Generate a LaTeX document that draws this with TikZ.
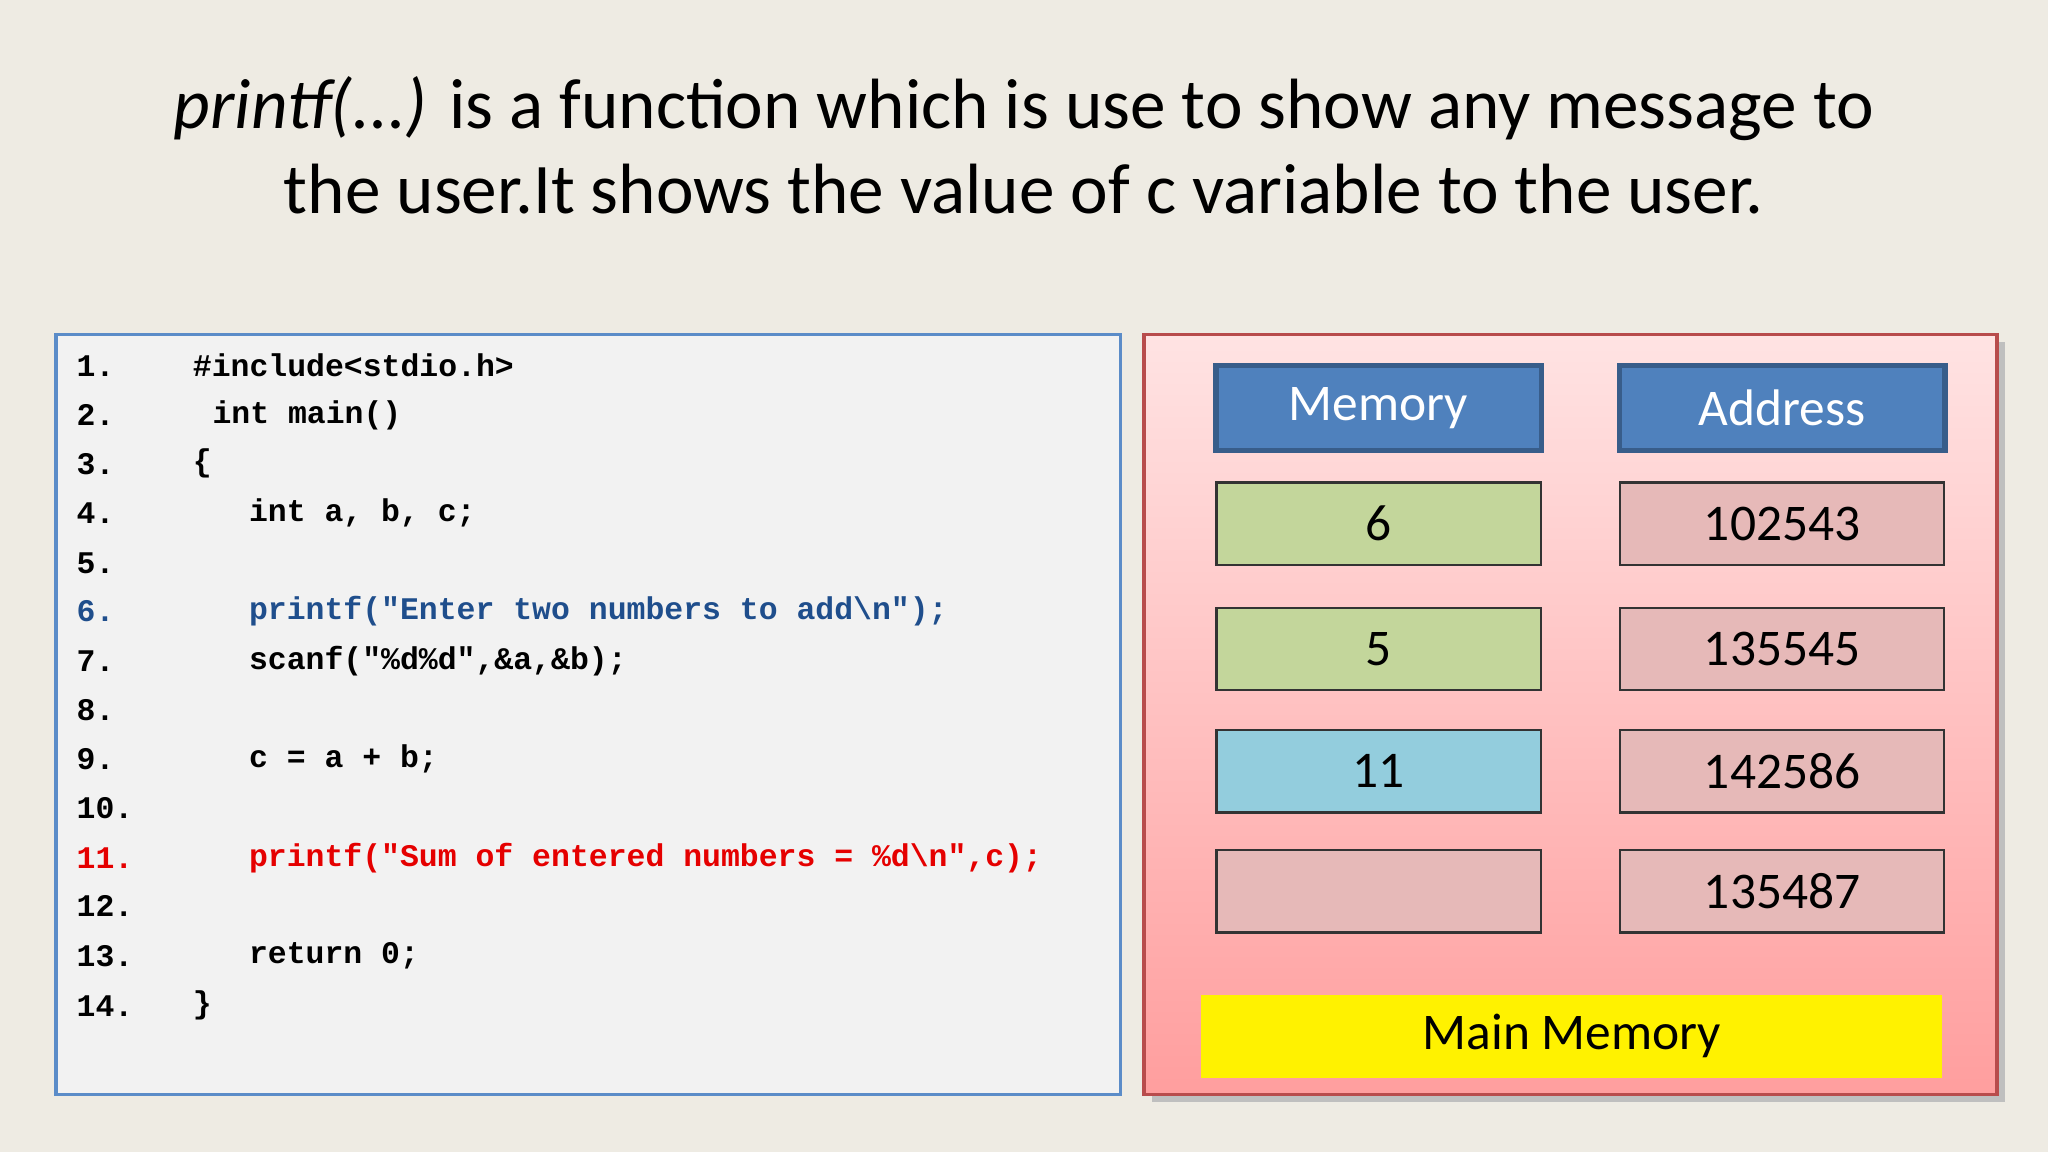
\documentclass[tikz,border=0pt]{standalone}
\usepackage{fontspec}
\setmainfont{Carlito}
\setmonofont{Liberation Mono}
\usetikzlibrary{positioning}
\definecolor{slidebg}{HTML}{EEEBE3}
\definecolor{codeframe}{HTML}{5B8CC8}
\definecolor{codeblue}{HTML}{1F4E8C}
\definecolor{headblue}{HTML}{4F81BD}
\definecolor{headedge}{HTML}{385D8A}
\definecolor{cellgreen}{HTML}{C3D69B}
\definecolor{cellcyan}{HTML}{93CDDD}
\definecolor{cellpink}{HTML}{E6B9B8}
\definecolor{paneltop}{HTML}{FFE3E3}
\definecolor{panelbot}{HTML}{FF9E9E}
\tikzset{
  codeline/.style={anchor=west,inner sep=0pt,font=\ttfamily\bfseries\fontsize{6.85}{8}\selectfont},
  headbox/.style={draw=headedge,line width=1.2pt,fill=headblue,text=white,minimum width=2.49cm,minimum height=0.65cm,font=\fontsize{11.2}{13}\selectfont},
  cellbox/.style={draw=black!80,line width=0.5pt,minimum width=2.48cm,minimum height=0.63cm,font=\fontsize{11.2}{13}\selectfont}
}
\begin{document}
\begin{tikzpicture}[x=0.01cm,y=-0.01cm]
  \fill[slidebg] (0,0) rectangle (1568,882);
  \useasboundingbox (0,0) rectangle (1568,882);

  % title
  \node[align=center,font=\fontsize{15.5}{18.5}\selectfont] (title) at (784,111)
    {\textit{printf(.\kern0pt.\kern0pt.)} is a function which is use to show any message to\\
     the user.It shows the value of c variable to the user.};

  % code panel
  \draw[codeframe,fill=black!5,line width=0.8pt] (43,256) rectangle (858,838);
  \node[codeline] (n1) at (58,280) {1.};
  \node[codeline] (n2) at (58,318) {2.};
  \node[codeline] (n3) at (58,355) {3.};
  \node[codeline] (n4) at (58,393) {4.};
  \node[codeline] (n5) at (58,431) {5.};
  \node[codeline,codeblue] (n6) at (58,468) {6.};
  \node[codeline] (n7) at (58,506) {7.};
  \node[codeline] (n8) at (58,544) {8.};
  \node[codeline] (n9) at (58,581) {9.};
  \node[codeline] (n10) at (58,619) {10.};
  \node[codeline,red!90!black] (n11) at (58,657) {11.};
  \node[codeline] (n12) at (58,694) {12.};
  \node[codeline] (n13) at (58,732) {13.};
  \node[codeline] (n14) at (58,770) {14.};
  \node[codeline] (c1) at (147,280) {\#include<stdio.h>};
  \node[codeline] (c2) at (162,318) {int main()};
  \node[codeline] (c3) at (147,355) {\{};
  \node[codeline] (c4) at (190,393) {int a, b, c;};
  \node[codeline,codeblue] (c6) at (190,468) {printf("Enter two numbers to add\textbackslash n");};
  \node[codeline] (c7) at (190,506) {scanf("\%d\%d",\&a,\&b);};
  \node[codeline] (c9) at (190,581) {c = a + b;};
  \node[codeline,red!90!black] (c11) at (190,657) {printf("Sum of entered numbers = \%d\textbackslash n",c);};
  \node[codeline] (c13) at (190,732) {return 0;};
  \node[codeline] (c14) at (147,770) {\}};

  % memory panel
  \fill[black!25] (882,262) rectangle (1535,844);
  \shade[top color=paneltop,bottom color=panelbot] (876,256) rectangle (1529,838);
  \draw[red!60!black!70,line width=0.8pt] (876,256) rectangle (1529,838);
  \node[headbox] (memhead) at (1055.5,312.5) {Memory};
  \node[headbox] (addrhead) at (1364.5,312.5) {Address};
  \node[cellbox,fill=cellgreen] (m1) at (1055.5,401) {6};
  \node[cellbox,fill=cellgreen] (m2) at (1055.5,497) {5};
  \node[cellbox,fill=cellcyan] (m3) at (1055.5,590.5) {11};
  \node[cellbox,fill=cellpink] (m4) at (1055.5,682.5) {};
  \node[cellbox,fill=cellpink] (a1) at (1364.5,401) {102543};
  \node[cellbox,fill=cellpink] (a2) at (1364.5,497) {135545};
  \node[cellbox,fill=cellpink] (a3) at (1364.5,590.5) {142586};
  \node[cellbox,fill=cellpink] (a4) at (1364.5,682.5) {135487};
  \node[fill=yellow,minimum width=5.67cm,minimum height=0.63cm,font=\fontsize{11.2}{13}\selectfont] (mainmem) at (1203.5,793.5) {Main Memory};
\end{tikzpicture}
\end{document}
